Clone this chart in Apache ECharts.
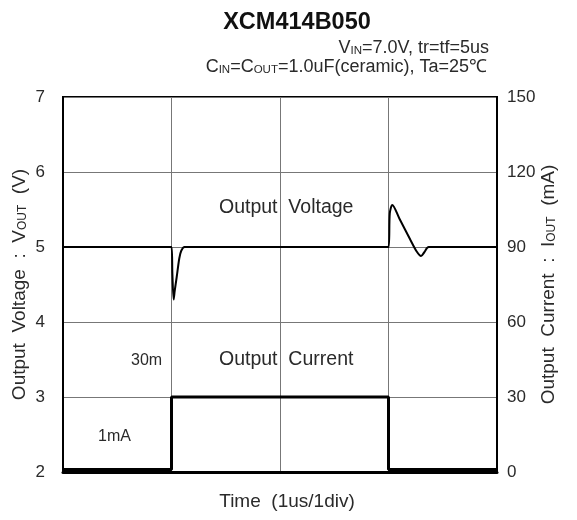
<!DOCTYPE html>
<html><head><meta charset="utf-8">
<script src="https://cdn.jsdelivr.net/npm/echarts@6/dist/echarts.min.js"></script>
<style>html,body{margin:0;padding:0;background:#fff}#c{width:577px;height:520px}</style>
</head><body><div id="c"></div>
<script>
// Time in us (1us/div)
const voltTime = [0, 1.0, 1.008, 1.02, 1.03, 1.048, 1.072, 1.09, 1.12, 3.0, 3.012, 3.035, 3.1, 3.2, 3.26, 3.3, 3.33, 3.37, 4.0];
const voltValue = [5.0, 5.0, 4.65, 4.30, 4.42, 4.6, 4.85, 4.95, 5.0, 5.0, 5.45, 5.56, 5.38, 5.1, 4.94, 4.88, 4.93, 5.0, 5.0];
const currTime = [0, 1.0, 1.0, 3.0, 3.0, 4.0];
const currValue = [1, 1, 30, 30, 1, 1];
const voltTicks = [2, 3, 4, 5, 6, 7];
const currTicks = [0, 30, 60, 90, 120, 150];

const FONT = '"Liberation Sans", Arial, sans-serif';
const TXT = '#2a2a2a';
const chart = echarts.init(document.getElementById('c'), null, {renderer: 'canvas'});
const subA = {fontSize: 12, fontFamily: FONT, color: TXT, padding: [6, 0, 0, 0]};
const subB = {fontSize: 11.5, fontFamily: FONT, color: TXT, padding: [6, 0, 0, 0]};
chart.setOption({
  animation: false,
  backgroundColor: '#fff',
  title: {
    text: 'XCM414B050', left: 292, top: 6, textAlign: 'center',
    textStyle: {fontSize: 23.5, fontWeight: 'bold', fontFamily: FONT, color: '#111'}
  },
  grid: {left: 63, right: 80, top: 97, bottom: 48, show: true, borderColor: '#000', borderWidth: 2, containLabel: false},
  xAxis: {
    type: 'value', min: 0, max: 4, interval: 1,
    name: 'Time  (1us/1div)', nameLocation: 'middle', nameGap: 20, nameMoveOverlap: false,
    nameTextStyle: {fontSize: 19, fontFamily: FONT, color: TXT, padding: [0, 0, 0, 14]},
    axisLabel: {show: false}, axisTick: {show: false},
    axisLine: {show: true, lineStyle: {color: '#000', width: 3}},
    splitLine: {show: true, lineStyle: {color: '#777', width: 1}}
  },
  yAxis: [{
    type: 'value', min: voltTicks[0], max: voltTicks[voltTicks.length - 1], interval: 1, position: 'left',
    name: 'Output  Voltage  :  V{s|OUT}  (V)', nameLocation: 'middle', nameGap: 34, nameMoveOverlap: false,
    nameTextStyle: {fontSize: 19, fontFamily: FONT, color: TXT, rich: {s: subA}},
    axisLabel: {fontSize: 17, fontFamily: FONT, color: TXT, margin: 18},
    axisTick: {show: false},
    axisLine: {show: true, lineStyle: {color: '#000', width: 2}},
    splitLine: {show: true, lineStyle: {color: '#777', width: 1}}
  }, {
    type: 'value', min: currTicks[0], max: currTicks[currTicks.length - 1], interval: 30, position: 'right',
    name: 'Output  Current  :  I{s|OUT}  (mA)', nameLocation: 'middle', nameGap: 42, nameMoveOverlap: false,
    nameTextStyle: {fontSize: 19, fontFamily: FONT, color: TXT, rich: {s: subA}},
    axisLabel: {fontSize: 17, fontFamily: FONT, color: TXT, margin: 10},
    axisTick: {show: false},
    axisLine: {show: true, lineStyle: {color: '#000', width: 2}},
    splitLine: {show: false}
  }],
  graphic: [
    {type: 'text', right: 88, top: 39, style: {text: 'V{s|IN}=7.0V, tr=tf=5us', font: '18px ' + FONT, fill: TXT, rich: {s: subB}}},
    {type: 'text', right: 90, top: 58, style: {text: 'C{s|IN}=C{s|OUT}=1.0uF(ceramic), Ta=25℃', font: '18px ' + FONT, fill: TXT, rich: {s: subB}}},
    {type: 'text', left: 219, top: 198, style: {text: 'Output  Voltage', font: '19.5px ' + FONT, fill: TXT}},
    {type: 'text', left: 219, top: 350, style: {text: 'Output  Current', font: '19.5px ' + FONT, fill: TXT}},
    {type: 'text', left: 131, top: 353, style: {text: '30m', font: '16px ' + FONT, fill: TXT}},
    {type: 'text', left: 98, top: 429, style: {text: '1mA', font: '16px ' + FONT, fill: TXT}}
  ],
  series: [{
    type: 'line', yAxisIndex: 0, showSymbol: false, smooth: 0.3,
    data: voltTime.map((t, i) => [t, voltValue[i]]),
    lineStyle: {color: '#000', width: 2}
  }, {
    type: 'line', yAxisIndex: 1, showSymbol: false,
    data: currTime.map((t, i) => [t, currValue[i]]),
    lineStyle: {color: '#000', width: 3}
  }]
});
</script></body></html>
